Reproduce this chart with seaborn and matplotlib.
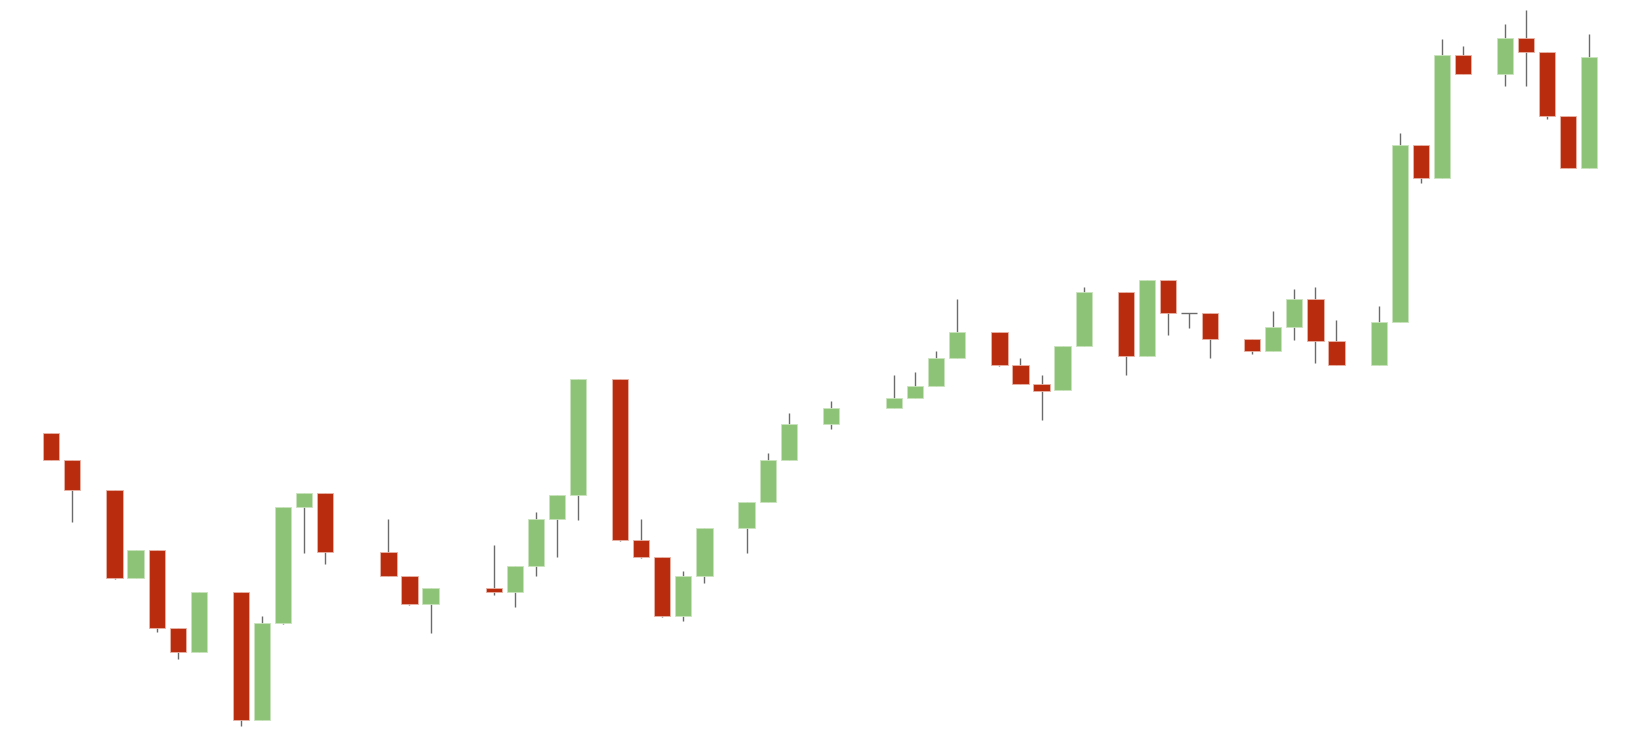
import matplotlib
matplotlib.use("Agg")
import matplotlib.pyplot as plt
import seaborn as sns
import numpy as np
import pandas as pd

# trading day slot, open, high, low, close
day = [0, 1, 3, 4, 5, 6, 7, 9, 10, 11, 12, 13, 16, 17, 18, 21, 22, 23, 24, 25,
       27, 28, 29, 30, 31, 33, 34, 35, 37, 40, 41, 42, 43, 45, 46, 47, 48, 49,
       51, 52, 53, 54, 55, 57, 58, 59, 60, 61, 63, 64, 65, 66, 67, 69, 70, 71, 72, 73]
open_ = [31.17, 28.5, 25.5, 16.73, 19.5, 11.7, 9.33, 15.33, 2.5, 12.23, 23.8, 25.23,
         19.33, 16.9, 14.1, 15.73, 15.3, 17.9, 22.6, 25.0,
         36.6, 20.53, 18.83, 12.9, 16.9, 21.73, 24.3, 28.5, 32.1, 33.73, 34.73, 35.9, 38.7,
         41.33, 38.0, 36.15, 35.47, 39.9, 45.3, 38.9, 46.5, 43.2, 43.23,
         40.63, 39.43, 41.8, 44.63, 40.43, 38.0, 42.3, 60.0, 56.73, 69.0,
         67.13, 70.7, 69.33, 62.9, 57.7]
high = [31.17, 28.5, 25.5, 19.5, 19.5, 11.7, 15.3, 15.33, 12.9, 23.8, 25.23, 25.23,
        22.6, 16.9, 15.73, 20.0, 17.9, 23.3, 25.0, 36.6,
        36.6, 22.6, 18.83, 17.4, 21.7, 24.3, 29.2, 33.2, 34.4, 37.0, 37.3, 39.4, 44.6,
        41.33, 38.7, 37.0, 39.9, 45.8, 45.3, 46.5, 46.5, 43.2, 43.23,
        40.63, 43.4, 45.57, 45.8, 42.5, 43.9, 61.2, 60.0, 70.63, 69.93,
        72.1, 73.5, 69.33, 62.9, 71.1]
low = [28.5, 22.33, 16.6, 16.7, 11.27, 8.63, 9.33, 1.93, 2.5, 12.1, 19.23, 18.07,
       16.9, 14.0, 11.23, 15.0, 13.83, 16.9, 18.77, 22.5,
       20.4, 18.7, 12.83, 12.4, 16.17, 19.23, 24.3, 28.5, 31.57, 33.73, 34.73, 35.9, 38.7,
       37.9, 36.1, 32.5, 35.47, 39.9, 37.03, 38.9, 41.03, 41.73, 38.67,
       39.13, 39.43, 40.53, 38.23, 38.0, 38.0, 42.3, 56.23, 56.73, 67.13,
       65.93, 65.93, 62.63, 57.7, 57.7]
close = [28.5, 25.5, 16.67, 19.5, 11.7, 9.3, 15.3, 2.5, 12.2, 23.8, 25.23, 19.3,
         16.9, 14.1, 15.73, 15.3, 17.9, 22.6, 25.0, 36.6,
         20.5, 18.8, 12.9, 16.9, 21.7, 24.3, 28.5, 32.1, 33.7, 34.73, 35.9, 38.7, 41.33,
         38.0, 36.1, 35.4, 39.9, 45.3, 38.9, 46.5, 43.2, 43.2, 40.6,
         39.43, 41.8, 44.6, 40.43, 38.0, 42.3, 60.0, 56.73, 69.0, 67.13,
         70.7, 69.33, 62.9, 57.7, 68.8]

df = pd.DataFrame({"day": day, "open": open_, "high": high, "low": low, "close": close})
df["up"] = df["close"] >= df["open"]

UP = "#8dc377"
DOWN = "#b92d0e"
WICK = "#6b6b6b"
body_w = 0.77

sns.set_theme(style="white")
fig = plt.figure(figsize=(16.46, 7.45), dpi=100)
ax = fig.add_axes([0, 0, 1, 1])

# wicks
ax.vlines(df["day"], df["low"], df["high"], color=WICK, linewidth=1.0, zorder=1)

# bodies
body = df[df["open"] != df["close"]]
bottom = body[["open", "close"]].min(axis=1)
height = (body["close"] - body["open"]).abs()
colors = np.where(body["up"], UP, DOWN)
edges = np.where(body["up"], "#c9e3bd", "#e8b3a6")
ax.bar(body["day"], height, bottom=bottom, width=body_w, color=colors,
       edgecolor=edges, linewidth=0.6, zorder=2)

# doji
doji = df[df["open"] == df["close"]]
ax.hlines(doji["open"], doji["day"] - body_w / 2, doji["day"] + body_w / 2,
          color=WICK, linewidth=1.0, zorder=2)

ax.set_xlim(-2.435, 75.69)
ax.set_ylim(0, 74.5)
ax.axis("off")
sns.despine(ax=ax, left=True, bottom=True)

fig.savefig("out.png", dpi=100, facecolor="white")
